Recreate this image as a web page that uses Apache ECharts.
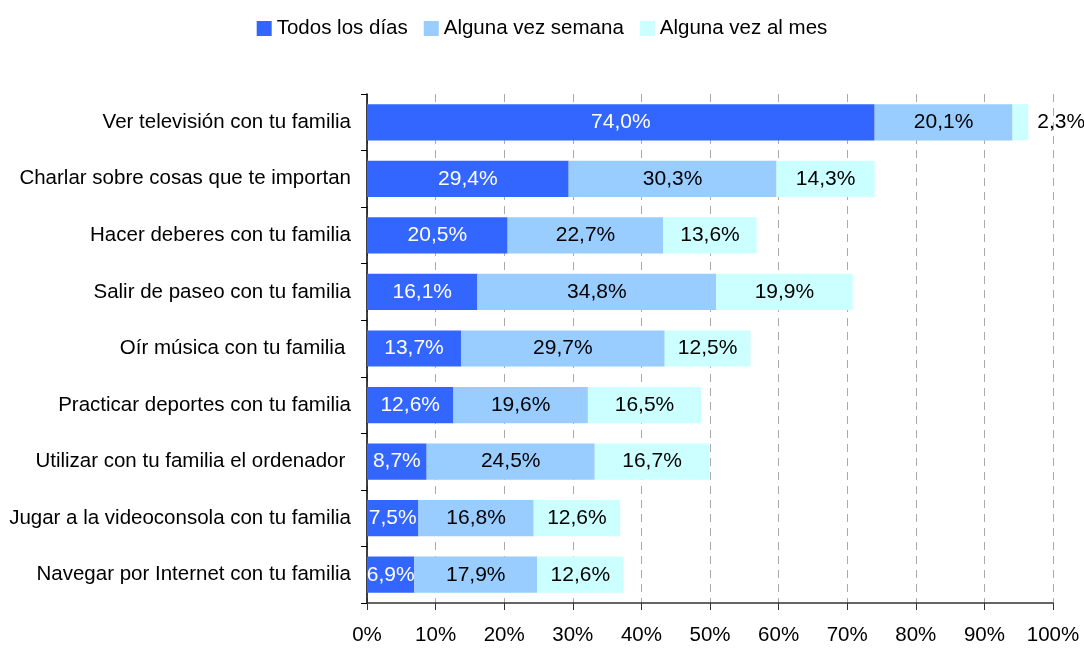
<!DOCTYPE html>
<html>
<head>
<meta charset="utf-8">
<script src="https://cdn.jsdelivr.net/npm/echarts@6/dist/echarts.min.js"></script>
<style>
  html, body { margin: 0; padding: 0; background: #fff; }
  #main { width: 1084px; height: 650px; }
</style>
</head>
<body>
<div id="main"></div>
<script>
// datos
var categorias = [
  'Ver televisión con tu familia',
  'Charlar sobre cosas que te importan',
  'Hacer deberes con tu familia',
  'Salir de paseo con tu familia',
  'Oír música con tu familia ',
  'Practicar deportes con tu familia',
  'Utilizar con tu familia el ordenador ',
  'Jugar a la videoconsola con tu familia',
  'Navegar por Internet con tu familia'
];
var todosLosDias = [74.0, 29.4, 20.5, 16.1, 13.7, 12.6, 8.7, 7.5, 6.9];
var algunaVezSemana = [20.1, 30.3, 22.7, 34.8, 29.7, 19.6, 24.5, 16.8, 17.9];
var algunaVezMes = [2.3, 14.3, 13.6, 19.9, 12.5, 16.5, 16.7, 12.6, 12.6];

var fuente = '"Liberation Sans Narrow", "Arial Narrow", "Liberation Sans", sans-serif';

function fmt(p) {
  return p.value.toFixed(1).replace('.', ',') + '%';
}

var chart = echarts.init(document.getElementById('main'));

// el 2,3% va fuera de la barra
var mesData = algunaVezMes.map(function (v, i) {
  if (v < 5) {
    return { value: v, label: { position: 'right', offset: [4, 0] } };
  }
  return v;
});

var option = {
  animation: false,
  textStyle: { fontFamily: fuente },
  legend: {
    top: 13,
    left: 'center',
    itemWidth: 15,
    itemHeight: 15,
    itemGap: 16,
    icon: 'rect',
    textStyle: { fontSize: 20.5, color: '#000', fontFamily: fuente },
    data: ['Todos los días', 'Alguna vez semana', 'Alguna vez al mes']
  },
  grid: {
    left: 367,
    right: 31,
    top: 94,
    bottom: 47
  },
  xAxis: {
    type: 'value',
    min: 0,
    max: 100,
    interval: 10,
    axisLine: { show: true, lineStyle: { color: '#333', width: 1.5 } },
    axisTick: { show: true, length: 7, lineStyle: { color: '#333' } },
    axisLabel: {
      fontSize: 20.5,
      color: '#000',
      margin: 22,
      fontFamily: fuente,
      formatter: '{value}%'
    },
    splitLine: { show: true, lineStyle: { color: '#aaa', type: [8, 6] } }
  },
  yAxis: {
    type: 'category',
    inverse: true,
    data: categorias,
    axisLine: { show: true, lineStyle: { color: '#000', width: 1.5 } },
    axisTick: { show: true, length: 6, lineStyle: { color: '#000' } },
    axisLabel: { fontSize: 20.5, color: '#000', margin: 16, fontFamily: fuente }
  },
  series: [
    {
      name: 'Todos los días',
      type: 'bar',
      stack: 'total',
      barWidth: '64%',
      data: todosLosDias,
      itemStyle: { color: '#3366FF' },
      label: { show: true, position: 'inside', color: '#fff', fontSize: 21, fontFamily: fuente, formatter: fmt }
    },
    {
      name: 'Alguna vez semana',
      type: 'bar',
      stack: 'total',
      data: algunaVezSemana,
      itemStyle: { color: '#99CCFF' },
      label: { show: true, position: 'inside', color: '#000', fontSize: 21, fontFamily: fuente, formatter: fmt }
    },
    {
      name: 'Alguna vez al mes',
      type: 'bar',
      stack: 'total',
      data: mesData,
      itemStyle: { color: '#CCFFFF' },
      label: { show: true, position: 'inside', color: '#000', fontSize: 21, fontFamily: fuente, formatter: fmt }
    }
  ]
};

chart.setOption(option);
</script>
</body>
</html>
